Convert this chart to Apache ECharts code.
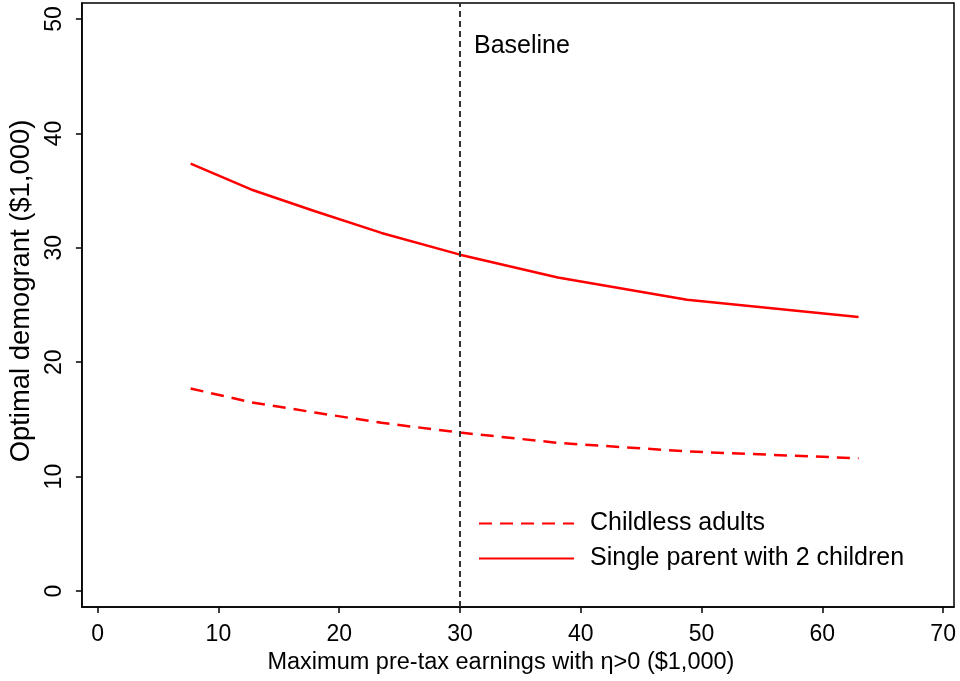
<!DOCTYPE html>
<html>
<head>
<meta charset="utf-8">
<style>
  html, body { margin: 0; padding: 0; background: #fff; }
  #chart { width: 960px; height: 681px; }
</style>
<script src="https://cdn.jsdelivr.net/npm/echarts@6/dist/echarts.min.js"></script>
</head>
<body>
<div id="chart"></div>
<script>
// Maximum pre-tax earnings with eta > 0 ($1,000)
const earningsCap = [7.7, 12.7, 18, 23.5, 30, 38.1, 48.8, 63];
// Optimal demogrant ($1,000) by household type
const childless = [17.7, 16.5, 15.6, 14.7, 13.85, 12.95, 12.2, 11.6];
const singleParent = [37.35, 35.1, 33.2, 31.3, 29.4, 27.4, 25.45, 23.95];
// Axis tick values
const xTicks = [0, 10, 20, 30, 40, 50, 60, 70];
const yTicks = [0, 10, 20, 30, 40, 50];
// Baseline earnings cap
const baselineCap = 30;
const baselineLabelY = 47.6;

const FONT = 'Liberation Sans, Arial, Helvetica, sans-serif';
const pair = (xs, ys) => xs.map((x, i) => [x, ys[i]]);

const chart = echarts.init(document.getElementById('chart'), null, { renderer: 'canvas' });

chart.setOption({
  animation: false,
  backgroundColor: '#fff',
  textStyle: { fontFamily: FONT, color: '#000' },
  grid: {
    left: 80, top: 3, right: 6, bottom: 74,
    show: true, borderColor: '#000', borderWidth: 1.5, backgroundColor: 'transparent'
  },
  xAxis: {
    type: 'value',
    min: -1.3, max: 70.9,
    name: 'Maximum pre-tax earnings with η>0 ($1,000)',
    nameLocation: 'middle',
    nameGap: 41,
    nameTextStyle: { fontSize: 23.5, color: '#000', fontFamily: FONT, padding: [0, 34, 0, 0] },
    axisLine: { show: true, onZero: false, lineStyle: { color: '#000', width: 1.5 } },
    axisTick: { show: true, length: 6, customValues: xTicks, lineStyle: { color: '#000', width: 1.5 } },
    axisLabel: { customValues: xTicks, fontSize: 23, color: '#000', margin: 16, fontFamily: FONT },
    splitLine: { show: false }
  },
  yAxis: {
    type: 'value',
    min: -1.4, max: 51.4,
    name: 'Optimal demogrant ($1,000)',
    nameLocation: 'middle',
    nameGap: 42,
    nameTextStyle: { fontSize: 27.4, color: '#000', fontFamily: FONT, padding: [0, 0, 0, 28] },
    axisLine: { show: true, onZero: false, lineStyle: { color: '#000', width: 1.5 } },
    axisTick: { show: true, length: 6, customValues: yTicks, lineStyle: { color: '#000', width: 1.5 } },
    axisLabel: { customValues: yTicks, fontSize: 23, color: '#000', margin: 16, rotate: 90, fontFamily: FONT },
    splitLine: { show: false }
  },
  legend: {
    data: ['Childless adults', 'Single parent with 2 children'],
    orient: 'vertical',
    left: 478,
    top: 511,
    padding: 0,
    itemWidth: 95,
    itemHeight: 20,
    itemGap: 10,
    itemStyle: { opacity: 0 },
    textStyle: { fontSize: 25, color: '#000', fontFamily: FONT, padding: [0, 0, 0, 11] }
  },
  series: [
    {
      name: 'Childless adults',
      type: 'line',
      data: pair(earningsCap, childless),
      symbol: 'none',
      smooth: false,
      lineStyle: { color: '#ff0000', width: 2.5, type: [13, 8] },
      itemStyle: { color: '#ff0000' },
      z: 3
    },
    {
      name: 'Single parent with 2 children',
      type: 'line',
      data: pair(earningsCap, singleParent),
      symbol: 'none',
      smooth: false,
      lineStyle: { color: '#ff0000', width: 2.5 },
      itemStyle: { color: '#ff0000' },
      z: 3
    },
    {
      name: 'Baseline',
      type: 'scatter',
      data: [[baselineCap, baselineLabelY]],
      symbolSize: 0,
      silent: true,
      itemStyle: { opacity: 1, color: '#000' },
      label: {
        show: true, position: 'right', distance: 14,
        formatter: 'Baseline', fontSize: 25, color: '#000', fontFamily: FONT
      },
      markLine: {
        silent: true,
        symbol: 'none',
        label: { show: false },
        lineStyle: { color: '#333', width: 2, type: [6, 4] },
        data: [{ xAxis: baselineCap }]
      },
      z: 2
    }
  ]
});
</script>
</body>
</html>
